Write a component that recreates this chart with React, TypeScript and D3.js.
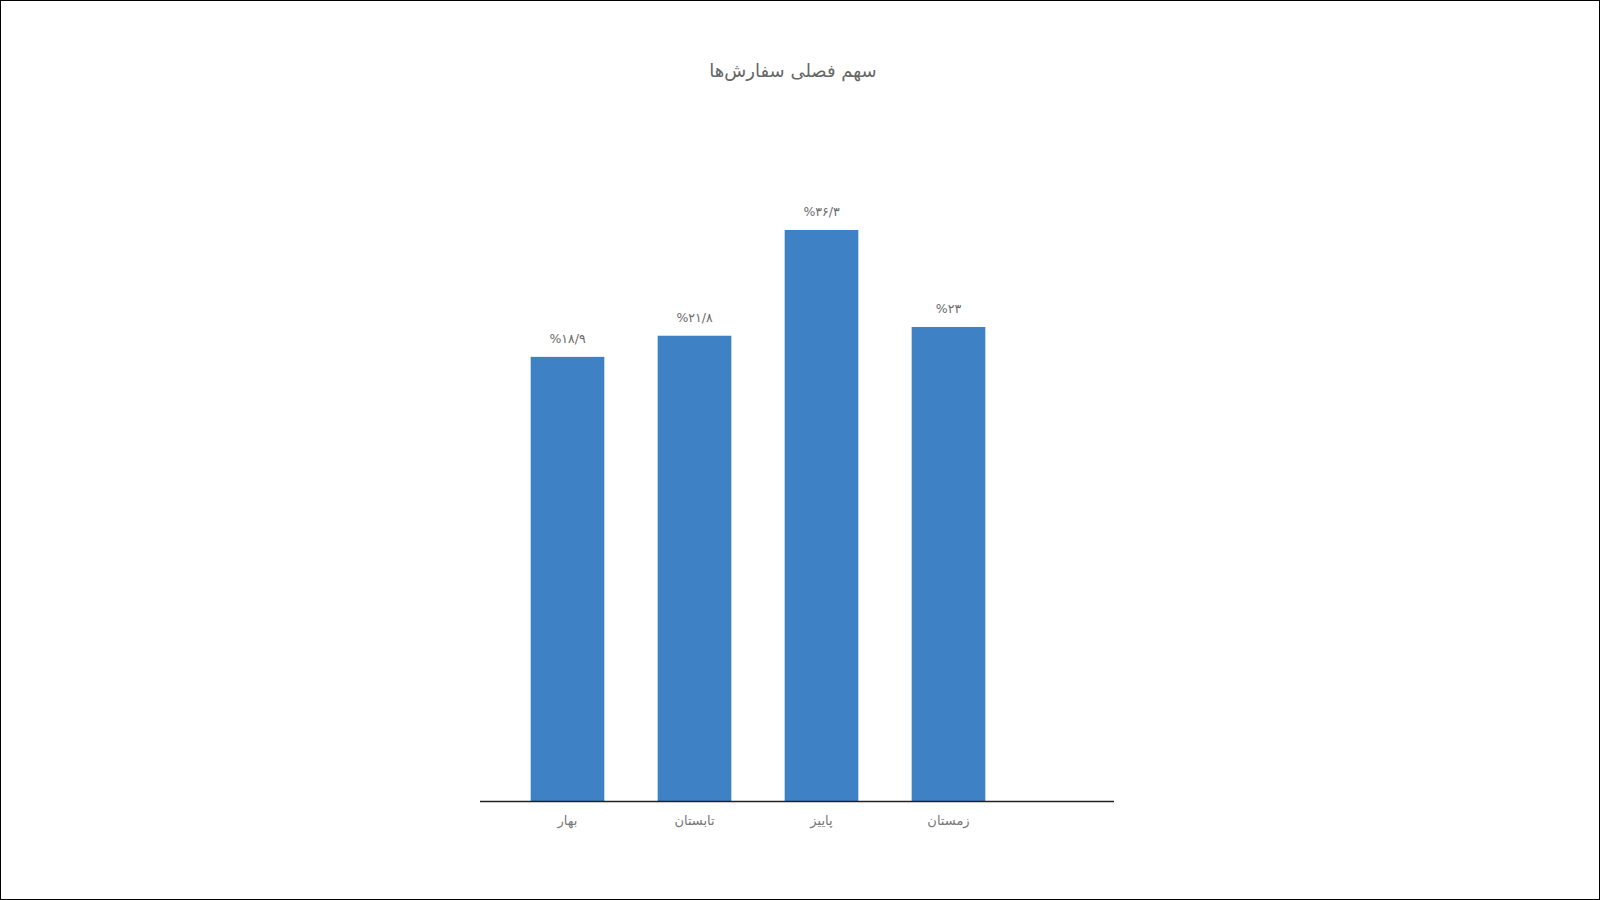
import React, { useRef, useEffect } from 'react';
import * as d3 from 'd3';

// داده‌های نمودار
const seasons: string[] = ['بهار', 'تابستان', 'پاییز', 'زمستان'];
const shares: number[] = [18.9, 21.8, 36.3, 23];
const chartTitle = 'سهم فصلی سفارش‌ها';

const faDigits = '۰۱۲۳۴۵۶۷۸۹';
const toFa = (v: number) =>
  '%' + String(v).replace('.', '/').replace(/\d/g, d => faDigits[+d]);

const App: React.FC = () => {
  const svgRef = useRef<SVGSVGElement>(null);

  const width = 1600;
  const height = 900;
  const baseY = 801;
  const font = '"DejaVu Sans", "Noto Sans", sans-serif';

  const xScale = d3.scaleBand<string>()
    .domain(seasons)
    .range([504, 1012])
    .paddingInner(0.42)
    .paddingOuter(0.21);

  // محور عمودی از صفر شروع نمی‌شود
  const yScale = d3.scaleLinear()
    .domain([-42, 40])
    .range([baseY, 203]);

  useEffect(() => {
    if (!svgRef.current) return;
    const svg = d3.select(svgRef.current);
    svg.selectAll('*').remove();

    svg.append('rect')
      .attr('x', 0.5).attr('y', 0.5)
      .attr('width', width - 1).attr('height', height - 1)
      .attr('fill', '#fff')
      .attr('stroke', '#000');

    svg.append('text')
      .attr('x', 793)
      .attr('y', 77)
      .attr('text-anchor', 'middle')
      .attr('font-family', font)
      .attr('font-size', 18)
      .attr('fill', '#666')
      .attr('direction', 'rtl')
      .text(chartTitle);

    svg.selectAll('.bar')
      .data(shares)
      .join('rect')
      .attr('class', 'bar')
      .attr('x', (_, i) => xScale(seasons[i])!)
      .attr('y', d => yScale(d))
      .attr('width', xScale.bandwidth())
      .attr('height', d => baseY - yScale(d))
      .attr('fill', '#3e81c4');

    svg.selectAll('.val')
      .data(shares)
      .join('text')
      .attr('class', 'val')
      .attr('x', (_, i) => xScale(seasons[i])! + xScale.bandwidth() / 2)
      .attr('y', d => yScale(d) - 14)
      .attr('text-anchor', 'middle')
      .attr('font-family', font)
      .attr('font-size', 12.5)
      .attr('fill', '#6a6a6a')
      .attr('direction', 'ltr')
      .text(d => toFa(d));

    svg.append('line')
      .attr('x1', 480).attr('x2', 1114)
      .attr('y1', baseY + 0.5).attr('y2', baseY + 0.5)
      .attr('stroke', '#222')
      .attr('stroke-width', 1.5);

    svg.selectAll('.cat')
      .data(seasons)
      .join('text')
      .attr('class', 'cat')
      .attr('x', d => xScale(d)! + xScale.bandwidth() / 2)
      .attr('y', 825)
      .attr('text-anchor', 'middle')
      .attr('font-family', font)
      .attr('font-size', 13)
      .attr('fill', '#777')
      .attr('direction', 'rtl')
      .text(d => d);
  }, []);

  return (
    <div style={{ position: 'fixed', left: 0, top: 0 }}>
      <svg ref={svgRef} width={width} height={height} style={{ display: 'block' }} />
    </div>
  );
};

export default App;
